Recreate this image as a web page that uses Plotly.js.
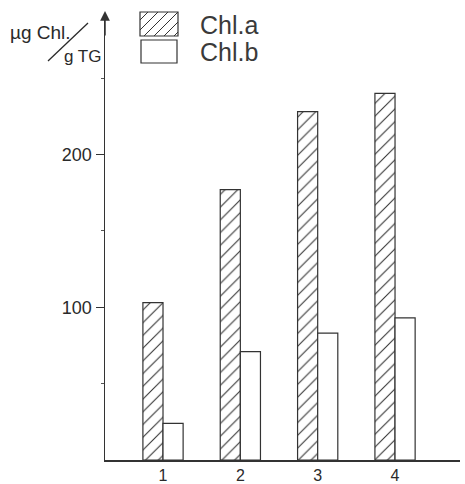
<!DOCTYPE html>
<html>
<head>
<meta charset="utf-8">
<script src="https://cdn.plot.ly/plotly-3.0.1.min.js"></script>
<style>html,body{margin:0;padding:0;background:#fff;}#chart{width:465px;height:484px;}</style>
</head>
<body>
<div id="chart"></div>
<script>
// ---- data ----
const categories = [1, 2, 3, 4];
const tickLabels = ["1", "2", "3", "4"];
const chlA = [103, 177, 228, 240];
const chlB = [24, 71, 83, 93];
const seriesNames = ["Chl.a", "Chl.b"];
const yTickVals = [100, 200];
const yTickText = ["100", "200"];
const yMinorVals = [50, 150, 250];

// ---- layout geometry (pixels) ----
const L = 105, T = 17, W = 355, H = 443;
const px = x => (x - L) / W;
const py = y => (T + H - y) / H;
const FONT = '"Liberation Sans", Arial, sans-serif';
const INK = '#2a2a2a';

const traces = [
  {
    type: 'bar', name: seriesNames[0], x: categories, y: chlA,
    marker: {color: '#fff', line: {color: '#333', width: 1.2},
      pattern: {shape: '/', size: 9, solidity: 0.12, fgcolor: '#333', bgcolor: '#fff'}},
    showlegend: false, hoverinfo: 'x+y'
  },
  {
    type: 'bar', name: seriesNames[1], x: categories, y: chlB,
    marker: {color: '#fff', line: {color: '#333', width: 1.2}},
    showlegend: false, hoverinfo: 'x+y'
  }
];

// custom legend shapes
const shapes = [];
const hb = {x0: 140, x1: 178, y0: 12, y1: 36};
shapes.push({type: 'rect', xref: 'paper', yref: 'paper', x0: px(hb.x0), x1: px(hb.x1), y0: py(hb.y1), y1: py(hb.y0),
  line: {color: '#333', width: 1.2}, fillcolor: '#fff'});
// hatch lines x + y = c  ("/" direction)
for (let c = hb.x0 + hb.y0 + 8; c < hb.x1 + hb.y1; c += 10) {
  let pts = [];
  let y = c - hb.x0; if (y >= hb.y0 && y <= hb.y1) pts.push([hb.x0, y]);
  y = c - hb.x1; if (y >= hb.y0 && y <= hb.y1) pts.push([hb.x1, y]);
  let x = c - hb.y0; if (x > hb.x0 && x < hb.x1) pts.push([x, hb.y0]);
  x = c - hb.y1; if (x > hb.x0 && x < hb.x1) pts.push([x, hb.y1]);
  if (pts.length >= 2) {
    shapes.push({type: 'line', xref: 'paper', yref: 'paper',
      x0: px(pts[0][0]), y0: py(pts[0][1]), x1: px(pts[1][0]), y1: py(pts[1][1]),
      line: {color: '#333', width: 1}});
  }
}
shapes.push({type: 'rect', xref: 'paper', yref: 'paper', x0: px(141), x1: px(177), y0: py(63), y1: py(40),
  line: {color: '#333', width: 1.2}, fillcolor: '#fff'});
// y-axis unit fraction slash
shapes.push({type: 'line', xref: 'paper', yref: 'paper', x0: px(48), y0: py(61), x1: px(88), y1: py(23),
  line: {color: INK, width: 1.3}});

const annotations = [
  {xref: 'paper', yref: 'paper', x: px(198), y: py(25), xanchor: 'left', yanchor: 'middle', showarrow: false,
   text: seriesNames[0], font: {family: FONT, size: 25, color: '#3a3a3a'}},
  {xref: 'paper', yref: 'paper', x: px(198), y: py(52), xanchor: 'left', yanchor: 'middle', showarrow: false,
   text: seriesNames[1], font: {family: FONT, size: 25, color: '#3a3a3a'}},
  {xref: 'paper', yref: 'paper', x: px(8), y: py(32), xanchor: 'left', yanchor: 'middle', showarrow: false,
   text: 'µg Chl.', font: {family: FONT, size: 19, color: INK}},
  {xref: 'paper', yref: 'paper', x: px(62), y: py(56), xanchor: 'left', yanchor: 'middle', showarrow: false,
   text: 'g TG', font: {family: FONT, size: 17, color: INK}},
  // arrow tip of the y axis
  {xref: 'paper', yref: 'paper', x: 0, y: py(11), ax: 0, ay: 26, showarrow: true, text: '',
   arrowhead: 2, arrowsize: 1.3, arrowwidth: 1.5, arrowcolor: '#333'}
];

const layout = {
  width: 465, height: 484,
  margin: {l: L, r: 465 - L - W, t: T, b: 484 - T - H, pad: 0},
  paper_bgcolor: '#fff', plot_bgcolor: '#fff',
  barmode: 'group', bargap: 0.48, bargroupgap: 0,
  font: {family: FONT, color: INK},
  xaxis: {
    range: [0.25, 4.84], tickvals: categories, ticktext: tickLabels,
    showline: true, linecolor: '#333', linewidth: 1.5, ticks: '', showgrid: false, zeroline: false,
    ticklabelstandoff: 0,
    tickfont: {family: FONT, size: 16, color: INK}, fixedrange: true
  },
  yaxis: {
    range: [0, 290], tickvals: yTickVals, ticktext: yTickText,
    showline: true, linecolor: '#333', linewidth: 1.5, ticks: 'outside', ticklen: 8, tickwidth: 1.2, tickcolor: '#333',
    minor: {tickvals: yMinorVals, ticks: 'outside', ticklen: 3, tickwidth: 1.2, tickcolor: '#555'},
    showgrid: false, zeroline: false,
    tickfont: {family: FONT, size: 18, color: INK}, fixedrange: true
  },
  shapes: shapes,
  annotations: annotations,
  showlegend: false
};

Plotly.newPlot('chart', traces, layout, {displayModeBar: false, staticPlot: true});
</script>
</body>
</html>
